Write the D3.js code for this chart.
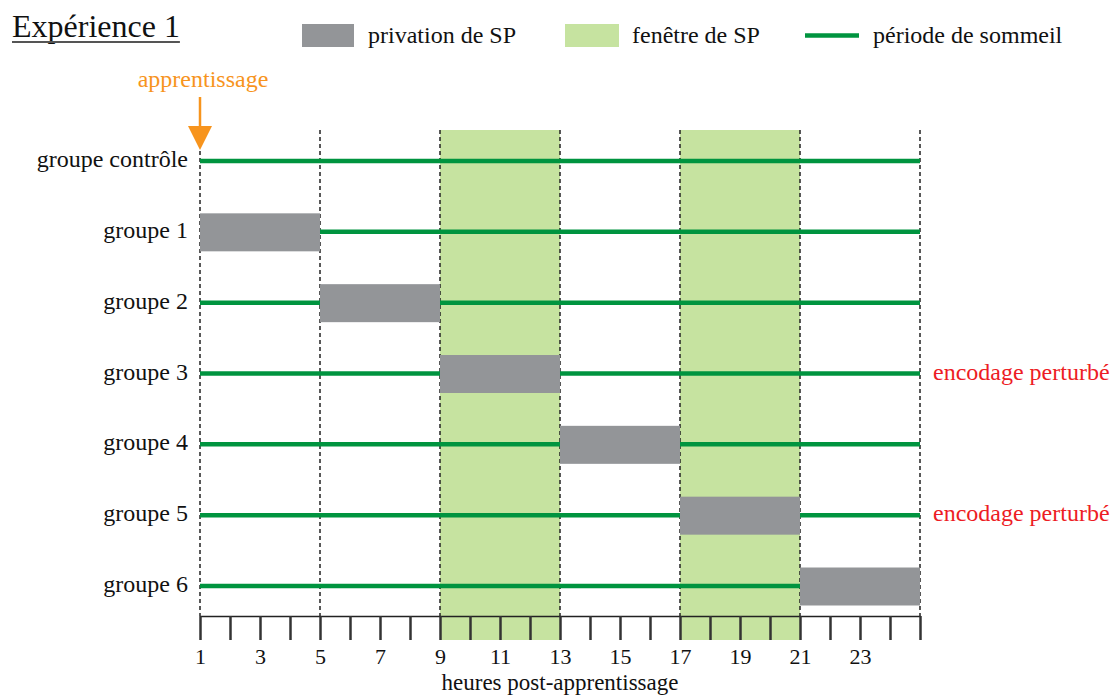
<!DOCTYPE html>
<html>
<head>
<meta charset="utf-8">
<script src="https://cdn.jsdelivr.net/npm/d3@7"></script>
<style>
  body { margin: 0; background: #fff; }
  text { font-family: "Liberation Serif", "Times New Roman", serif; }
</style>
</head>
<body>
<div id="chart"></div>
<script>
// groups (rows), from top to bottom
const groups = ["groupe contrôle", "groupe 1", "groupe 2", "groupe 3", "groupe 4", "groupe 5", "groupe 6"];
// sleep deprivation period per group (hours), null = none
const privation = [null, [1, 5], [5, 9], [9, 13], [13, 17], [17, 21], [21, 25]];
// sleep periods per group (hours)
const sleep = [
  [[1, 25]],
  [[5, 25]],
  [[1, 5], [9, 25]],
  [[1, 9], [13, 25]],
  [[1, 13], [17, 25]],
  [[1, 17], [21, 25]],
  [[1, 21]]
];
// SP windows (hours)
const windows = [[9, 13], [17, 21]];
// dashed reference hours
const dashedHours = [1, 5, 9, 13, 17, 21, 25];
// axis ticks and labels
const tickHours = d3.range(1, 26);
const tickLabels = [1, 3, 5, 7, 9, 11, 13, 15, 17, 19, 21, 23];
// groups with disrupted encoding
const perturbed = ["groupe 3", "groupe 5"];

const width = 1114, height = 695;
const green = "#00943f", grey = "#939598", light = "#c6e3a0";
const orange = "#f7941d", red = "#ed1c24";

const svg = d3.select("#chart").append("svg")
  .attr("width", width)
  .attr("height", height);

// scales
const x = d3.scaleLinear().domain([1, 25]).range([200, 920]);
const y = d3.scalePoint().domain(groups).range([161, 586]);
const plotTop = 130, axisY = 616;

// SP windows
svg.selectAll(".win")
  .data(windows)
  .enter().append("rect")
  .attr("x", d => x(d[0]))
  .attr("width", d => x(d[1]) - x(d[0]))
  .attr("y", plotTop)
  .attr("height", axisY + 24 - plotTop)
  .attr("fill", light);

// dashed verticals
svg.selectAll(".dash")
  .data(dashedHours)
  .enter().append("line")
  .attr("x1", d => x(d)).attr("x2", d => x(d))
  .attr("y1", plotTop).attr("y2", axisY)
  .attr("stroke", "#222")
  .attr("stroke-width", 1.5)
  .attr("stroke-dasharray", "4,3");

// axis
const axis = svg.append("g")
  .attr("transform", `translate(0,${axisY})`)
  .call(d3.axisBottom(x)
    .tickValues(tickHours)
    .tickSize(24)
    .tickSizeOuter(0)
    .tickPadding(8)
    .tickFormat(d => tickLabels.includes(d) ? d : ""));
axis.select(".domain").attr("stroke", "#222").attr("stroke-width", 1.5);
axis.selectAll(".tick line").attr("stroke", "#333").attr("stroke-width", 2.5);
axis.selectAll(".tick text")
  .attr("fill", "#111")
  .style("font-family", "Liberation Serif")
  .style("font-size", "22px");

svg.append("text")
  .attr("x", 560).attr("y", 690)
  .attr("text-anchor", "middle")
  .style("font-size", "23px")
  .attr("fill", "#111")
  .text("heures post-apprentissage");

// deprivation bars
const barH = 38;
svg.selectAll(".priv")
  .data(groups.map((g, i) => ({ g: g, p: privation[i] })).filter(d => d.p))
  .enter().append("rect")
  .attr("x", d => x(d.p[0]))
  .attr("width", d => x(d.p[1]) - x(d.p[0]))
  .attr("y", d => y(d.g) - barH / 2 + 0.5)
  .attr("height", barH)
  .attr("fill", grey);

// sleep lines
const segs = [];
groups.forEach((g, i) => sleep[i].forEach(s => segs.push({ g: g, s: s })));
svg.selectAll(".sleep")
  .data(segs)
  .enter().append("line")
  .attr("x1", d => x(d.s[0])).attr("x2", d => x(d.s[1]))
  .attr("y1", d => y(d.g)).attr("y2", d => y(d.g))
  .attr("stroke", green)
  .attr("stroke-width", 4.5);

// row labels
svg.selectAll(".lab")
  .data(groups)
  .enter().append("text")
  .attr("x", 188)
  .attr("y", d => y(d) + 6)
  .attr("text-anchor", "end")
  .style("font-size", "24px")
  .attr("fill", "#111")
  .text(d => d);

// encodage perturbé
svg.selectAll(".pert")
  .data(perturbed)
  .enter().append("text")
  .attr("x", 933)
  .attr("y", d => y(d) + 6)
  .style("font-size", "24px")
  .attr("fill", red)
  .text("encodage perturbé");

// apprentissage arrow
svg.append("line")
  .attr("x1", x(1)).attr("x2", x(1))
  .attr("y1", 97).attr("y2", 130)
  .attr("stroke", orange).attr("stroke-width", 2.5);
svg.append("path")
  .attr("d", `M${x(1) - 12},126 L${x(1) + 12},126 L${x(1)},150 Z`)
  .attr("fill", orange);
svg.append("text")
  .attr("x", x(1) + 3).attr("y", 87)
  .attr("text-anchor", "middle")
  .style("font-size", "24px")
  .attr("fill", orange)
  .text("apprentissage");

// title
const title = svg.append("text")
  .attr("x", 12).attr("y", 37)
  .style("font-size", "32px")
  .attr("fill", "#111")
  .text("Expérience 1");
const tw = title.node().getComputedTextLength();
svg.append("line")
  .attr("x1", 12).attr("x2", 12 + tw)
  .attr("y1", 42).attr("y2", 42)
  .attr("stroke", "#555").attr("stroke-width", 2);

// legend
const leg = svg.append("g");
leg.append("rect").attr("x", 302).attr("y", 24).attr("width", 52).attr("height", 23).attr("fill", grey);
leg.append("text").attr("x", 368).attr("y", 43).style("font-size", "24px").attr("fill", "#111").text("privation de SP");
leg.append("rect").attr("x", 565).attr("y", 24).attr("width", 54).attr("height", 23).attr("fill", light);
leg.append("text").attr("x", 632).attr("y", 43).style("font-size", "24px").attr("fill", "#111").text("fenêtre de SP");
leg.append("line").attr("x1", 805).attr("x2", 859).attr("y1", 35.5).attr("y2", 35.5).attr("stroke", green).attr("stroke-width", 4.5);
leg.append("text").attr("x", 873).attr("y", 43).style("font-size", "24px").attr("fill", "#111").text("période de sommeil");
</script>
</body>
</html>
